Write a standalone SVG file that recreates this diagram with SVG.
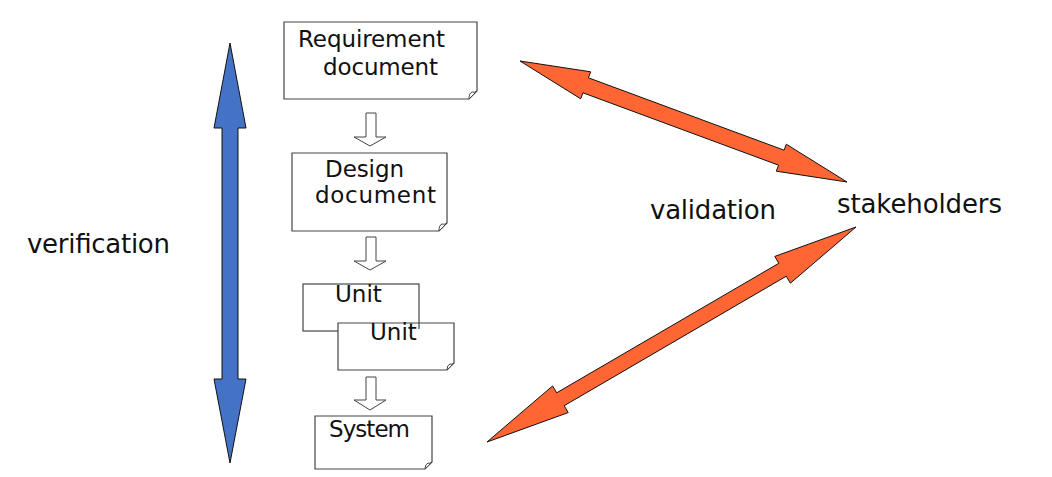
<svg xmlns="http://www.w3.org/2000/svg" width="1052" height="477" viewBox="0 0 1052 477">
<style>
.box{fill:#fff;stroke:#444;stroke-width:1.2}
.fold{fill:#fff;stroke:#444;stroke-width:1}
.t{font-family:"DejaVu Sans",Verdana,sans-serif;font-size:23px;fill:#111}
.lbl{font-family:"DejaVu Sans",Verdana,sans-serif;font-size:26px;fill:#111}
.step{fill:#fff;stroke:#444;stroke-width:1}
.blue{fill:#4472C4;stroke:#111;stroke-width:1}
.orange{fill:#FF6633;stroke:#111;stroke-width:1}
</style>
<rect width="1052" height="477" fill="#fff"/>
<g id="req">
<path class="box" d="M284,22 H477 V91 L469,99 H284 Z"/>
<path class="fold" d="M477,91 L469,99 Q469,93 472,92 Q475,93 477,91 Z"/>
<text class="t" x="298" y="47" textLength="147">Requirement</text>
<text class="t" x="323" y="75" textLength="115">document</text>
</g>
<g id="design">
<path class="box" d="M292,153 H447 V223 L439,231 H292 Z"/>
<path class="fold" d="M447,223 L439,231 Q439,225 442,224 Q445,225 447,223 Z"/>
<text class="t" x="325" y="177" textLength="79">Design</text>
<text class="t" x="315" y="203" textLength="121">document</text>
</g>
<g id="unit1">
<rect class="box" x="303" y="284" width="116" height="47"/>
<text class="t" x="335" y="302">Unit</text>
</g>
<g id="unit2">
<path class="box" d="M338,323 H454 V363 L447,370 H338 Z"/>
<path class="fold" d="M454,363 L447,370 Q447,365 450,364 Q452,365 454,363 Z"/>
<line x1="419" y1="323" x2="419" y2="329" stroke="#444" stroke-width="1.2"/>
<text class="t" x="370" y="340">Unit</text>
</g>
<g id="system">
<path class="box" d="M315,416 H432 V462 L425,469 H315 Z"/>
<path class="fold" d="M432,462 L425,469 Q425,464 428,463 Q430,464 432,462 Z"/>
<text class="t" x="329" y="437" textLength="81">System</text>
</g>
<g id="labels">
<text class="lbl" x="27" y="253" textLength="143">verification</text>
<text class="lbl" x="650" y="219" textLength="126">validation</text>
<text class="lbl" x="837" y="213" textLength="165">stakeholders</text>
</g>
<g id="connectors">
<polygon class="step" points="366,113 376,113 376,137 386,137 370,146 354,137 366,137"/>
<polygon class="step" points="366,237 376,237 376,261 386,261 370,270 354,261 366,261"/>
<polygon class="step" points="366,377 376,377 376,400 386,400 370,410 354,400 366,400"/>
<polygon class="blue" points="230,43 246,128 238,128 238,379 246,379 230,463 214,379 222,379 222,128 214,128"/>
<polygon class="orange" points="520,61 580.7,98.8 582.9,92.8 778.6,165.2 776.3,171.2 847,182 786.3,144.2 784.1,150.2 588.4,77.8 590.7,71.8"/>
<polygon class="orange" points="487,442 568.2,412.6 564.2,405.7 786.3,276.2 790.4,283.2 856,227 774.8,256.4 778.8,263.3 556.7,392.8 552.6,385.9"/>
</g>
</svg>
